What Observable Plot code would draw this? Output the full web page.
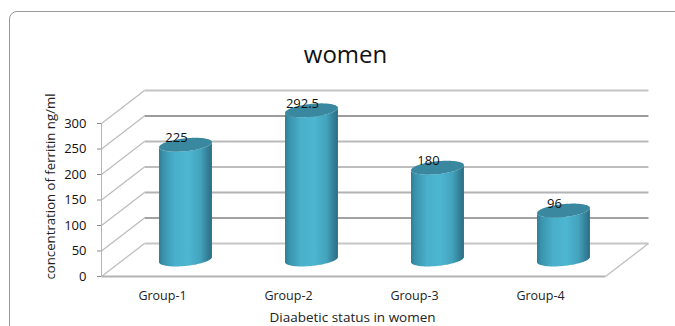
<!DOCTYPE html>
<html>
<head>
<meta charset="utf-8">
<script src="https://cdn.jsdelivr.net/npm/d3@7"></script>
<script src="https://cdn.jsdelivr.net/npm/@observablehq/plot@0.6"></script>
<style>
  html, body { margin: 0; padding: 0; background: #fff; overflow: hidden; }
  #card { position: absolute; left: 9px; top: 11px; width: 800px; height: 500px;
          border: 1px solid #9a9a9a; border-radius: 8px; }
  #chart { position: absolute; left: 0; top: 0; }
  svg { background: transparent !important; }
</style>
</head>
<body>
<div id="card"></div>
<div id="chart"></div>
<script>
const groups = ["Group-1", "Group-2", "Group-3", "Group-4"];
const values = [225, 292.5, 180, 96];
const valueLabels = ["225", "292.5", "180", "96"];
const yTicks = [0, 50, 100, 150, 200, 250, 300];
const gridColors = ["#c6c6c6", "#a2a2a2", "#b2b2b2", "#bdbdbd", "#bababa", "#9c9c9c", "#c4c4c4"];

const font = "'Open Sans', 'Noto Sans', sans-serif";

// Oblique projection: the back wall sits one full depth behind the front plane,
// the columns stand halfway in between.
const depthX = 0.341;
const depthY = 64.7;
const px = (i, z) => i + z * depthX;
const py = (v, z) => v + z * depthY;

// Column cross-section, in data units.
const rx = 0.21;
const ry = 12.7;
const tilt = 5;
const mid = 0.5;

const samples = d3.range(0, 61).map((k) => -Math.cos((k / 60) * Math.PI));
const center = (i) => px(i + 0.5, mid);

const bodies = groups.flatMap((g, i) => samples.map((u) => {
  const s = Math.sqrt(Math.max(0, 1 - u * u));
  return {
    group: g,
    x: center(i) + rx * u,
    y1: py(0, mid) + tilt * u - ry * s,
    y2: py(values[i], mid) + tilt * u - ry * s
  };
}));

const caps = groups.flatMap((g, i) => samples.map((u) => {
  const s = Math.sqrt(Math.max(0, 1 - u * u));
  return {
    group: g,
    x: center(i) + rx * u,
    y1: py(values[i], mid) + tilt * u - ry * s,
    y2: py(values[i], mid) + tilt * u + ry * s
  };
}));

const tops = groups.map((g, i) => ({
  group: g,
  x: center(i),
  y: py(values[i], mid),
  label: valueLabels[i]
}));

const gridRows = yTicks.map((v, i) => ({ v, stroke: gridColors[i] }));

// Horizontal shading that gives the columns their rounded look.
const columnGradient = () => {
  const svgNS = "http://www.w3.org/2000/svg";
  const defs = document.createElementNS(svgNS, "defs");
  const grad = document.createElementNS(svgNS, "linearGradient");
  grad.setAttribute("id", "column");
  [[0, "#2f7d96"], [0.08, "#3a93ad"], [0.3, "#49afca"], [0.55, "#4db6d1"],
   [0.78, "#44a3bd"], [0.92, "#337f98"], [1, "#2b6d83"]].forEach(([o, c]) => {
    const stop = document.createElementNS(svgNS, "stop");
    stop.setAttribute("offset", o);
    stop.setAttribute("stop-color", c);
    grad.appendChild(stop);
  });
  defs.appendChild(grad);
  return defs;
};

const chart = Plot.plot({
  width: 675,
  height: 326,
  marginLeft: 101,
  marginRight: 70,
  marginTop: 0,
  marginBottom: 50,
  style: { fontFamily: font, background: "transparent" },
  x: { domain: [0, 4], range: [101, 605] },
  y: { domain: [0, 300], range: [276, 123] },
  marks: [
    columnGradient,
    // Back wall
    Plot.link(gridRows, {
      x1: () => px(0, 1), x2: () => px(4, 1),
      y1: (d) => py(d.v, 1), y2: (d) => py(d.v, 1),
      stroke: (d) => d.stroke, strokeWidth: 1.8
    }),
    // Side wall
    Plot.link(gridRows, {
      x1: () => px(0, 0), x2: () => px(0, 1),
      y1: (d) => py(d.v, 0), y2: (d) => py(d.v, 1),
      stroke: "#bcbcbc", strokeWidth: 1.2
    }),
    // Floor edges
    Plot.link([0], {
      x1: () => px(0, 0), x2: () => px(4, 0),
      y1: () => py(0, 0), y2: () => py(0, 0),
      stroke: "#b4b4b4", strokeWidth: 1.8
    }),
    Plot.link([0], {
      x1: () => px(4, 0), x2: () => px(4, 1),
      y1: () => py(0, 0), y2: () => py(0, 1),
      stroke: "#bcbcbc", strokeWidth: 1.2
    }),
    Plot.ruleX([0], { y1: 0, y2: 300, stroke: "#b4b4b4" }),
    // Columns
    Plot.areaY(bodies, { x: "x", y1: "y1", y2: "y2", z: "group", fill: "url(#column)" }),
    Plot.areaY(caps, { x: "x", y1: "y1", y2: "y2", z: "group", fill: "#3a87a0" }),
    // Value labels
    Plot.text(tops, {
      x: "x", y: "y", text: "label", dx: -9.5, dy: -7,
      fontSize: 13, fill: "#111"
    }),
    // Axes
    Plot.axisY({
      ticks: yTicks, tickSize: 4, tickPadding: 11, label: null,
      fontSize: 13, stroke: "#888", fill: "#111"
    }),
    Plot.axisX({
      ticks: groups.map((_, i) => i + 0.5),
      tickFormat: (d) => groups[Math.floor(d)],
      tickSize: 0, tickPadding: 15, label: null, dx: -2,
      fontSize: 12.5, fill: "#222", anchor: "bottom"
    }),
    // Titles, offset from the plot frame
    Plot.text(["women"], {
      frameAnchor: "top", dy: 45, dx: -8, fontSize: 24, fill: "#111"
    }),
    Plot.text(["Diaabetic status in women"], {
      frameAnchor: "bottom", dy: 45, dx: -1, fontSize: 13.5, fill: "#222"
    }),
    Plot.text(["concentration of ferritin ng/ml"], {
      frameAnchor: "left", textAnchor: "middle", rotate: -90,
      dx: -51, dy: 48, fontSize: 13.2, fill: "#222"
    })
  ]
});

document.getElementById("chart").appendChild(chart);
</script>
</body>
</html>
